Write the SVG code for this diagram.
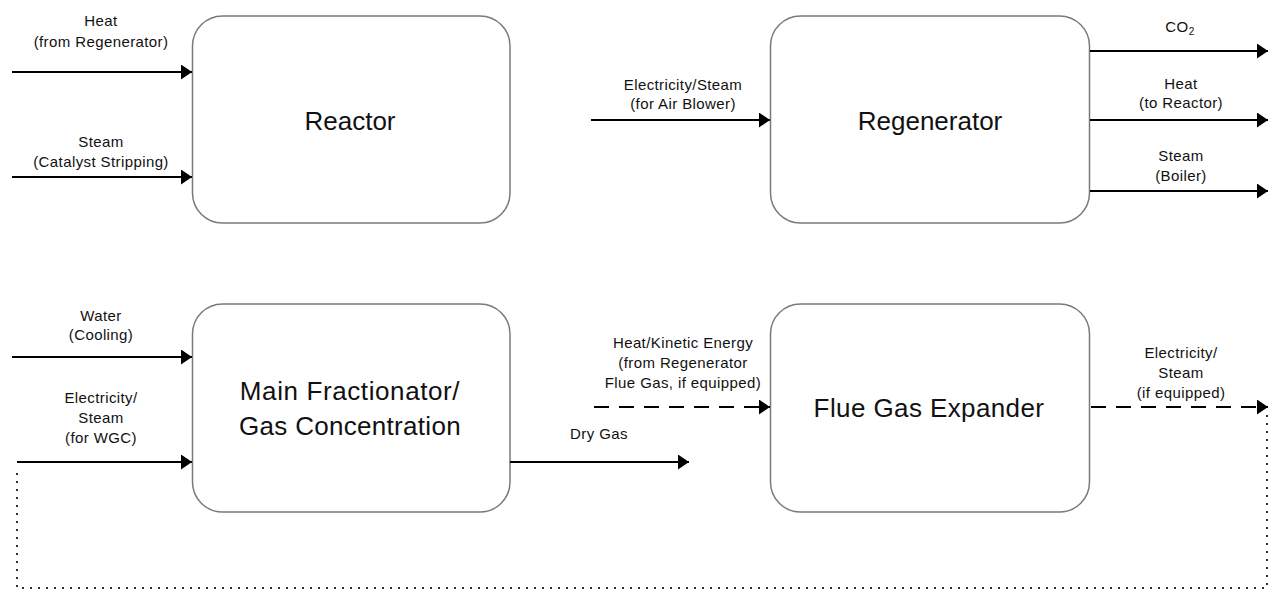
<svg xmlns="http://www.w3.org/2000/svg" width="1270" height="591" viewBox="0 0 1270 591">
<style>
.box{fill:#fff;stroke:#7a7a7a;stroke-width:1.5}
.big{font-family:"Liberation Sans",Arial,sans-serif;font-size:26px;fill:#111;text-anchor:middle}
.lbl{font-family:"Liberation Sans",Arial,sans-serif;font-size:15px;fill:#111;text-anchor:middle;letter-spacing:0.4px}
.ln{stroke:#000;stroke-width:2;fill:none}
.dash{stroke-dasharray:15 10}
.dot{stroke:#000;stroke-width:2.2;fill:none;stroke-dasharray:0 8;stroke-linecap:round}
</style>
<defs>
<marker id="ah" markerUnits="userSpaceOnUse" markerWidth="12" markerHeight="16" refX="11" refY="7.5" orient="auto">
<path d="M0,0 L11,7.5 L0,15 z" fill="#000"/>
</marker>
</defs>
<g id="reactor">
<rect class="box" x="192.5" y="16" width="317.5" height="207" rx="30"/>
<text class="big" x="350" y="130">Reactor</text>
</g>
<g id="regenerator">
<rect class="box" x="770.5" y="16" width="319" height="207" rx="30"/>
<text class="big" x="930" y="130">Regenerator</text>
</g>
<g id="main-fractionator">
<rect class="box" x="192.5" y="304" width="317.5" height="208" rx="30"/>
<text class="big" x="350" y="400" letter-spacing="0.6">Main Fractionator/</text>
<text class="big" x="350" y="435" letter-spacing="0.3">Gas Concentration</text>
</g>
<g id="flue-gas-expander">
<rect class="box" x="770.5" y="304" width="319" height="208" rx="30"/>
<text class="big" x="929" y="417" letter-spacing="0.4">Flue Gas Expander</text>
</g>
<g id="connectors">
<line class="ln" x1="12" y1="72" x2="192" y2="72" marker-end="url(#ah)"/>
<line class="ln" x1="12" y1="177" x2="192" y2="177" marker-end="url(#ah)"/>
<line class="ln" x1="591" y1="120" x2="770" y2="120" marker-end="url(#ah)"/>
<line class="ln" x1="1090" y1="51" x2="1268" y2="51" marker-end="url(#ah)"/>
<line class="ln" x1="1090" y1="120" x2="1268" y2="120" marker-end="url(#ah)"/>
<line class="ln" x1="1090" y1="191" x2="1268" y2="191" marker-end="url(#ah)"/>
<line class="ln" x1="12" y1="357" x2="192" y2="357" marker-end="url(#ah)"/>
<line class="ln" x1="17" y1="462" x2="192" y2="462" marker-end="url(#ah)"/>
<line class="ln" x1="510" y1="462" x2="689" y2="462" marker-end="url(#ah)"/>
<line class="ln dash" x1="594" y1="407" x2="770" y2="407" marker-end="url(#ah)"/>
<line class="ln dash" x1="1091" y1="407" x2="1268" y2="407" marker-end="url(#ah)"/>
<path class="dot" d="M1267,416 V588 H17 V466"/>
</g>
<g id="labels">
<text class="lbl" x="101" y="26">Heat</text>
<text class="lbl" x="101" y="47">(from Regenerator)</text>
<text class="lbl" x="101" y="147">Steam</text>
<text class="lbl" x="101" y="167">(Catalyst Stripping)</text>
<text class="lbl" x="683" y="90">Electricity/Steam</text>
<text class="lbl" x="683" y="109">(for Air Blower)</text>
<text class="lbl" x="1180" y="32">CO<tspan font-size="10" dy="3">2</tspan></text>
<text class="lbl" x="1181" y="89">Heat</text>
<text class="lbl" x="1181" y="108">(to Reactor)</text>
<text class="lbl" x="1181" y="161">Steam</text>
<text class="lbl" x="1181" y="181">(Boiler)</text>
<text class="lbl" x="101" y="321">Water</text>
<text class="lbl" x="101" y="340">(Cooling)</text>
<text class="lbl" x="101" y="403">Electricity/</text>
<text class="lbl" x="101" y="423">Steam</text>
<text class="lbl" x="101" y="443">(for WGC)</text>
<text class="lbl" x="599" y="439">Dry Gas</text>
<text class="lbl" x="683" y="348">Heat/Kinetic Energy</text>
<text class="lbl" x="683" y="368">(from Regenerator</text>
<text class="lbl" x="683" y="388">Flue Gas, if equipped)</text>
<text class="lbl" x="1181" y="358">Electricity/</text>
<text class="lbl" x="1181" y="378">Steam</text>
<text class="lbl" x="1181" y="398">(if equipped)</text>
</g>
</svg>
